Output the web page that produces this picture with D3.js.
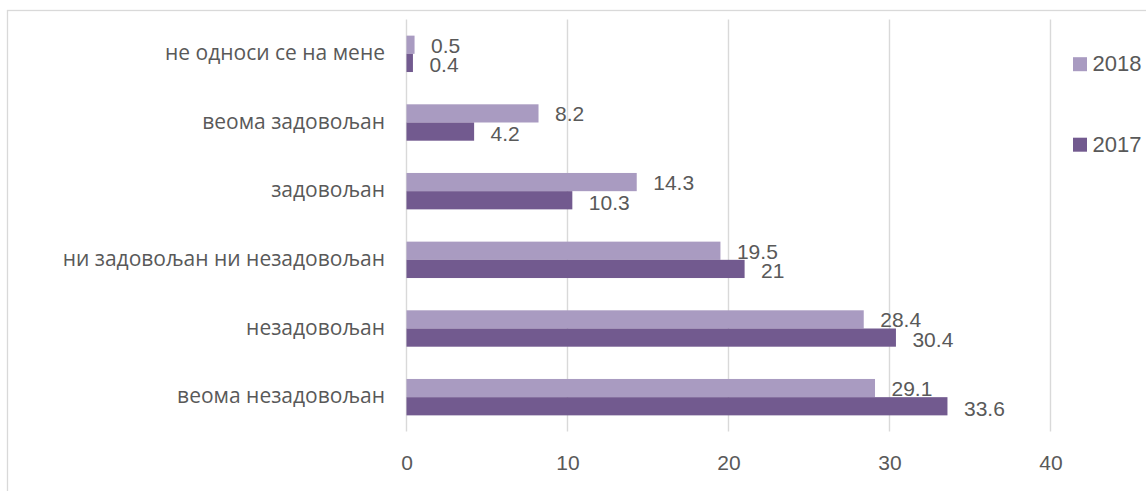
<!DOCTYPE html>
<html><head><meta charset="utf-8">
<script src="https://cdn.jsdelivr.net/npm/d3@7"></script>
<style>
html,body{margin:0;padding:0;background:#fff;}
svg{display:block;}
</style></head>
<body>
<svg id="chart" width="1146" height="491"></svg>
<script>
const categories = ["не односи се на мене","веома задовољан","задовољан","ни задовољан ни незадовољан","незадовољан","веома незадовољан"];
const seriesNames = ["2018","2017"];
const values2018 = [0.5, 8.2, 14.3, 19.5, 28.4, 29.1];
const values2017 = [0.4, 4.2, 10.3, 21, 30.4, 33.6];
const xTicks = [0, 10, 20, 30, 40];
const colors = ["#A99BC1", "#725A8F"];

(function(){
const svg = d3.select("#chart");
const W = 1146, H = 491;
const mLeft = 406.5, mRight = 1050.5, mTop = 19.5, mBottom = 431.5;
const txt = "#595959";
const numFont = "'Liberation Sans', Arial, sans-serif";
const catFont = "'Open Sans', 'Noto Sans', sans-serif";

svg.append("rect").attr("x",7.5).attr("y",10.5).attr("width",W+20).attr("height",H+20)
  .attr("fill","#fff").attr("stroke","#D9D9D9").attr("stroke-width",1.3);

const x = d3.scaleLinear().domain([0,40]).range([mLeft,mRight]);
const y = d3.scaleBand().domain(categories).range([mTop,mBottom]).paddingInner(0.47).paddingOuter(0.235);
const ySub = d3.scaleBand().domain(seriesNames).range([0,y.bandwidth()]);

svg.append("g").selectAll("line").data(xTicks).join("line")
  .attr("x1",d=>x(d)).attr("x2",d=>x(d)).attr("y1",mTop).attr("y2",mBottom)
  .attr("stroke","#D9D9D9").attr("stroke-width",1.4);

const xAxis = d3.axisBottom(x).tickValues(xTicks).tickSize(0).tickPadding(0);
const gx = svg.append("g").attr("transform",`translate(0,${mBottom+38})`).call(xAxis);
gx.select(".domain").remove();
gx.selectAll("text").attr("fill",txt).attr("font-family",numFont).attr("font-size",21).attr("dy","0");

const yAxis = d3.axisLeft(y).tickSize(0).tickPadding(0);
const gy = svg.append("g").attr("transform",`translate(385,0)`).call(yAxis);
gy.select(".domain").remove();
gy.selectAll("text").attr("fill",txt).attr("font-family",catFont).attr("font-size",21).attr("dy","0.3em");

const rows = categories.map((c,i)=>({cat:c, vals:[values2018[i], values2017[i]]}));
const groups = svg.append("g").selectAll("g").data(rows).join("g")
  .attr("transform",d=>`translate(0,${y(d.cat)})`);

groups.selectAll("rect").data(d=>d.vals.map((v,j)=>({v, s:seriesNames[j], j}))).join("rect")
  .attr("x",x(0)).attr("y",d=>ySub(d.s)).attr("width",d=>x(d.v)-x(0)).attr("height",ySub.bandwidth())
  .attr("fill",d=>colors[d.j]);

groups.selectAll("text.val").data(d=>d.vals.map((v,j)=>({v, s:seriesNames[j], j}))).join("text")
  .attr("class","val")
  .attr("x",d=>x(d.v)+16.5).attr("y",d=>ySub(d.s)+ySub.bandwidth()/2+(d.j?2:0.5))
  .attr("dy","0.36em").attr("fill",txt).attr("font-family",numFont).attr("font-size",21)
  .text(d=>d.v);

const legY = [64.2, 144.7];
const leg = svg.append("g").selectAll("g").data(seriesNames).join("g")
  .attr("transform",(d,i)=>`translate(1073,${legY[i]})`);
leg.append("rect").attr("x",0).attr("y",-7).attr("width",14).attr("height",14).attr("fill",(d,i)=>colors[i]);
leg.append("text").attr("x",19.5).attr("y",-1).attr("dy","0.36em").attr("fill",txt)
  .attr("font-family",numFont).attr("font-size",22).text(d=>d);
})();
</script>
</body></html>
